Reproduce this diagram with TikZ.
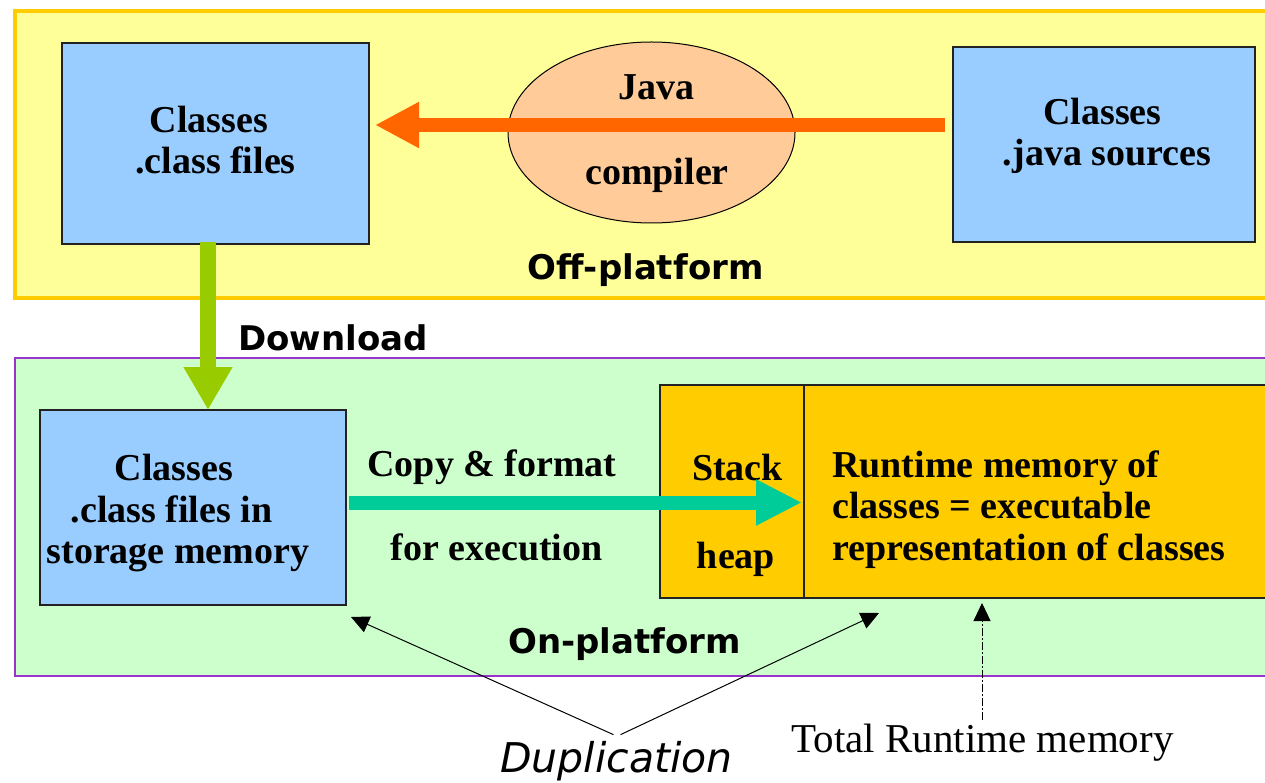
\documentclass[tikz,border=0pt]{standalone}
\usepackage{fontspec}
\setmainfont{Liberation Serif}
\newfontfamily\dvs{DejaVu Sans}
\usetikzlibrary{arrows.meta,calc,shapes.geometric}
\definecolor{offfill}{HTML}{FFFF99}
\definecolor{offline}{HTML}{FFCC00}
\definecolor{onfill}{HTML}{CCFFCC}
\definecolor{online}{HTML}{9933CC}
\definecolor{boxblue}{HTML}{99CCFF}
\definecolor{ellfill}{HTML}{FFCC99}
\definecolor{arrorange}{HTML}{FF6600}
\definecolor{arrgreen}{HTML}{99CC00}
\definecolor{arrteal}{HTML}{00CC99}
\definecolor{memfill}{HTML}{FFCC00}
\definecolor{edgegray}{HTML}{222222}
\begin{document}
\begin{tikzpicture}[x=1pt,y=-1pt,
  zone/.style={rectangle, anchor=north west, inner sep=0pt, outer sep=0pt},
  offzone/.style={zone, fill=offfill, draw=offline, line width=4pt},
  onzone/.style={zone, fill=onfill, draw=online, line width=2pt},
  bluebox/.style={zone, fill=boxblue, draw=edgegray, line width=1.5pt},
  membox/.style={zone, fill=memfill, draw=edgegray, line width=1.5pt},
  tb/.style={font=\fontsize{38}{41}\selectfont\bfseries, inner sep=0pt, anchor=base},
  tr/.style={font=\fontsize{41}{44}\selectfont, inner sep=0pt, anchor=base},
  sb/.style={font=\dvs\fontsize{34}{38}\selectfont\bfseries, inner sep=0pt, anchor=base},
  si/.style={font=\dvs\fontsize{41}{45}\selectfont\itshape, inner sep=0pt, anchor=base},
  fatarrow/.style={line cap=butt},
  thinarrow/.style={line width=1pt, -{Triangle[width=17pt,length=18pt]}}
]
\useasboundingbox (0,0) rectangle (1265,783);
\fill[white] (0,0) rectangle (1265,783);

% zones
\node[offzone, minimum width=1275pt, minimum height=287pt] (off) at (15,11) {};
\node[onzone, minimum width=1275pt, minimum height=318pt] (on) at (15,358) {};

% off-platform boxes
\node[bluebox, minimum width=307pt, minimum height=201pt] (cls) at (62,43) {};
\node[bluebox, minimum width=302pt, minimum height=195pt] (java) at (953,47) {};
\node[ellipse, fill=ellfill, draw=black, line width=1pt, minimum width=287pt, minimum height=181pt, inner sep=0pt] (comp) at (651.5,132.5) {};

% on-platform boxes
\node[bluebox, minimum width=306pt, minimum height=195pt] (store) at (40,410) {};
\node[membox, minimum width=144pt, minimum height=213pt] (stack) at (660,385) {};
\node[membox, minimum width=476pt, minimum height=213pt] (run) at (804,385) {};

% texts
\node[tb] (clsA) at (209,133) {Classes};
\node[tb] (clsB) at (215.5,174) {.class files};
\node[tb] (javaA) at (1102.5,125) {Classes};
\node[tb] (javaB) at (1107,166) {.java sources};
\node[tb] (compA) at (656,100) {Java};
\node[tb] (compB) at (657,185) {compiler};
\node[tb] (stA) at (174,480) {Classes};
\node[tb] (stB) at (171.5,522) {.class files in};
\node[tb] (stC) at (178,563) {storage memory};
\node[tb] (cpA) at (492,476) {Copy \& format};
\node[tb] (cpB) at (496.5,560) {for execution};
\node[tb] (stkA) at (737.5,480) {Stack};
\node[tb] (stkB) at (736,568) {heap};
\node[tb, anchor=base west] (runA) at (832,477) {Runtime memory of};
\node[tb, anchor=base west] (runB) at (832,518) {classes = executable};
\node[tb, anchor=base west] (runC) at (832,560) {representation of classes};
\node[sb] (offlab) at (645.5,280) {Off-platform};
\node[sb, anchor=base west] (dl) at (238,350) {Download};
\node[sb] (onlab) at (624.5,653) {On-platform};
\node[si] (dup) at (616.5,772) {Duplication};
\node[tr] (trm) at (982.5,752) {Total Runtime memory};

% fat arrows
\draw[fatarrow, draw=arrorange, line width=14pt, -{Triangle[width=43pt,length=44pt]}]
  ([xshift=-8pt,yshift=19.5pt]java.west) -- ([xshift=6pt,yshift=18.5pt]cls.east);
\draw[fatarrow, draw=arrgreen, line width=16pt, -{Triangle[width=46pt,length=43pt]}]
  ([xshift=-7.5pt,yshift=2pt]cls.south) -- ([xshift=15pt]store.north);
\coordinate (tealS) at ([xshift=3pt,yshift=5pt]store.east);
\draw[fatarrow, draw=arrteal, line width=14pt, -{Triangle[width=43pt,length=46pt]}]
  (tealS) -- ($(tealS -| stack.east)+(-2,0)$);

% thin arrows
\draw[thinarrow] ([xshift=-3pt,yshift=6pt]dup.north) -- ([xshift=5pt,yshift=-12pt]store.south east);
\draw[thinarrow] ([xshift=4pt,yshift=6pt]dup.north) -- ([xshift=75pt,yshift=-15pt]run.south west);
\draw[thinarrow, dash pattern=on 8pt off 2pt on 2pt off 2pt]
  ([xshift=-0.5pt,yshift=3pt]trm.north) -- ([xshift=-0.5pt,yshift=-5pt]trm.north |- run.south);
\end{tikzpicture}
\end{document}
